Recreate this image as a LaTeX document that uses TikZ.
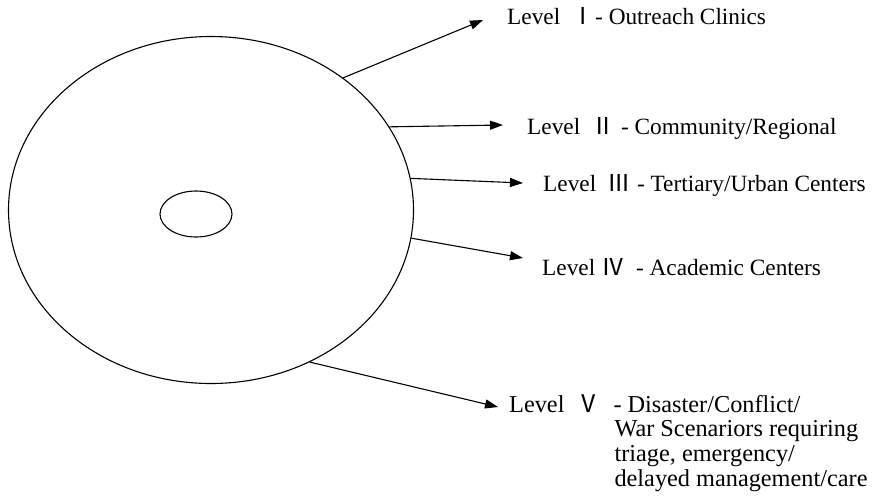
\documentclass[tikz,border=0pt]{standalone}
\usepackage{fontspec}
\setmainfont{Liberation Serif}
\newfontfamily\cjk{Noto Sans CJK SC}
\usetikzlibrary{shapes.geometric,arrows.meta}

\begin{document}
\begin{tikzpicture}[x=1pt,y=-1pt,
    lvl/.style={anchor=base west,inner sep=0pt,font=\fontsize{23.3}{24.7}\selectfont},
    ray/.style={-{Triangle[length=13pt,width=9pt]},line width=1.1pt}]
    \useasboundingbox (0,0) rectangle (875,499);
    % Rings
    \node[draw,line width=1.1pt,ellipse,inner sep=0pt,minimum width=405pt,minimum height=347pt] (outer) at (211,210) {};
    \node[draw,line width=1.1pt,ellipse,inner sep=0pt,minimum width=72pt,minimum height=46pt] (inner) at (196,214) {};
    % Levels
    \node[lvl] (lvI) at (507,24) {Level\ \ {\cjk Ⅰ}- Outreach Clinics};
    \node[lvl] (lvII) at (527,134) {Level\ \ {\cjk Ⅱ} - Community/Regional};
    \node[lvl] (lvIII) at (543,191) {Level\ \ {\cjk Ⅲ} - Tertiary/Urban Centers};
    \node[lvl] (lvIV) at (542,275) {Level\ {\cjk Ⅳ}\ \ - Academic Centers};
    \node[lvl,font=\fontsize{24.3}{24.7}\selectfont] (lvV) at (509,412) {Level\ \ {\cjk Ⅴ}\ \ \hspace{6pt}};
    \node[lvl,font=\fontsize{24.3}{24.7}\selectfont] (lvVtxt) at (lvV.base east) {\vtop{\hbox{- Disaster/Conflict/}
        \hbox{\hspace*{1pt}War Scenariors requiring}
        \hbox{\hspace*{1pt}triage, emergency/}
        \hbox{\hspace*{1pt}delayed management/care}}};
    % Arrow tips
    \coordinate (tI) at (483,20);
    \coordinate (tII) at (503,125);
    \coordinate (tIII) at (523,183);
    \coordinate (tIV) at (523,258);
    \coordinate (tV) at (498,407);
    % Arrows
    \draw[ray] (outer.45) -- (tI);
    \draw[ray] (outer.25) -- (tII);
    \draw[ray] (outer.9.6) -- (tIII);
    \draw[ray] (outer.-8) -- (tIV);
    \draw[ray] (outer.-57.6) -- (tV);
\end{tikzpicture}
\end{document}
